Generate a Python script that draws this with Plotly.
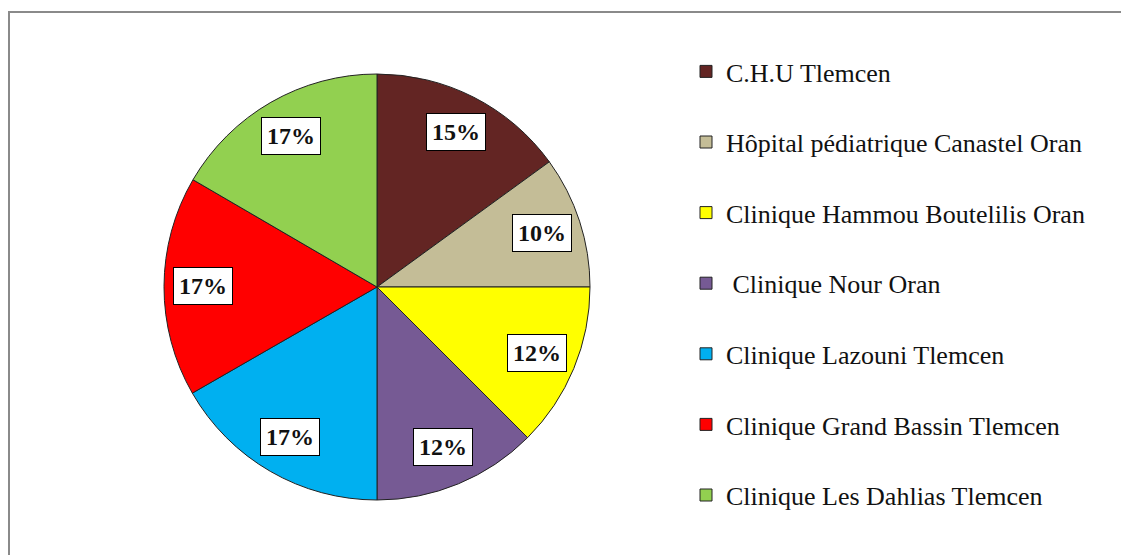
import math
import plotly.graph_objects as go

W, H = 1129, 555
OFF = 8  # page body margin in the browser

categories = [
    "C.H.U Tlemcen",
    "Hôpital pédiatrique Canastel Oran",
    "Clinique Hammou Boutelilis Oran",
    " Clinique Nour Oran",
    "Clinique Lazouni Tlemcen",
    "Clinique Grand Bassin Tlemcen",
    "Clinique Les Dahlias Tlemcen",
]
values = [15, 10, 12.5, 12.5, 16.7, 16.7, 16.6]
value_labels = ["15%", "10%", "12%", "12%", "17%", "17%", "17%"]
colors = ["#632523", "#C4BD97", "#FFFF00", "#765A94", "#00B0F0", "#FF0000", "#92D050"]

# pie geometry (screen pixels)
cx, cy, R = 377 - OFF, 287 - OFF, 213
dom_x = [(cx - R) / W, (cx + R) / W]
dom_y = [(H - cy - R) / H, (H - cy + R) / H]

fig = go.Figure()
fig.add_trace(go.Pie(
    labels=[c + "<br> " for c in categories],
    values=values,
    sort=False,
    direction="clockwise",
    rotation=0,
    marker=dict(colors=colors, line=dict(color="#222222", width=1)),
    textinfo="none",
    hoverinfo="label+percent",
    domain=dict(x=dom_x, y=dom_y),
    showlegend=True,
))

# percentage labels in boxes, positioned from the values
total = sum(values)
cum = 0
for v, lab in zip(values, value_labels):
    mid = (cum + v / 2) / total * 2 * math.pi
    cum += v
    px = cx + 0.815 * R * math.sin(mid)
    py = cy - 0.815 * R * math.cos(mid)
    fig.add_annotation(
        x=px / W, y=1 - py / H, xref="paper", yref="paper",
        xanchor="center", yanchor="middle",
        text="<b>" + lab + "</b>", showarrow=False,
        font=dict(family="Liberation Serif", size=24, color="#111111"),
        bgcolor="white", bordercolor="black", borderwidth=1, borderpad=5,
    )

# outer frame
fig.add_shape(type="rect", xref="paper", yref="paper",
              x0=(8 - OFF + 1) / W, x1=1.05, y0=-0.05, y1=1 - (11 - OFF + 1) / H,
              line=dict(color="#8a8a8a", width=2), fillcolor="rgba(0,0,0,0)")

fig.update_layout(
    width=W, height=H,
    margin=dict(l=0, r=0, t=0, b=0),
    paper_bgcolor="white", plot_bgcolor="white",
    font=dict(family="Liberation Serif", color="black"),
    legend=dict(
        x=(686 - OFF) / W, xanchor="left", y=1 - (48 - OFF) / H, yanchor="top",
        font=dict(family="Liberation Serif", size=26, color="#111111"),
        valign="top", bgcolor="rgba(0,0,0,0)",
        traceorder="normal",
    ),
)

fig.write_html("out.html")
